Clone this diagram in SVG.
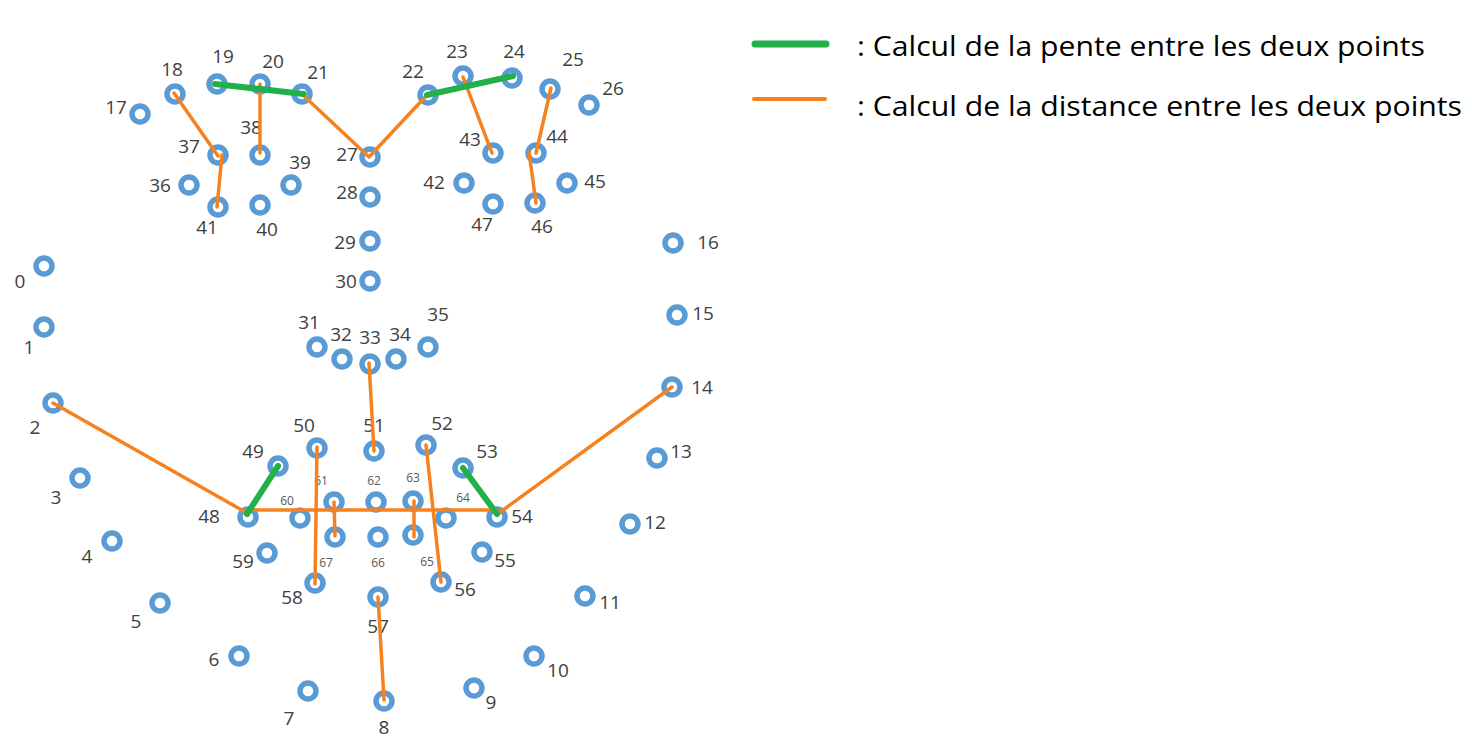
<svg xmlns="http://www.w3.org/2000/svg" width="1472" height="754" viewBox="0 0 1472 754">
<style>
.r{fill:#fff;stroke:#5b9bd5;stroke-width:5.5}
.t{font-family:"Open Sans","Liberation Sans",sans-serif;font-size:19px;fill:#3f3f3f;text-anchor:middle}
.s{font-family:"Open Sans","Liberation Sans",sans-serif;font-size:12px;fill:#595959;text-anchor:middle}
.g{stroke:#22b04b;stroke-width:6;stroke-linecap:round;fill:none}
.o{stroke:#f5811f;stroke-width:3.5;stroke-linecap:round;stroke-linejoin:round;fill:none}
.lg{font-family:"Open Sans","Liberation Sans",sans-serif;font-size:27px;fill:#000}
</style>
<rect width="1472" height="754" fill="#fff"/>
<g id="nodes">
<g id="p0"><circle class="r" cx="44" cy="266" r="8"/><text class="t" x="20" y="288">0</text></g>
<g id="p1"><circle class="r" cx="44" cy="327" r="8"/><text class="t" x="29" y="354">1</text></g>
<g id="p2"><circle class="r" cx="53" cy="403" r="8"/><text class="t" x="35" y="434">2</text></g>
<g id="p3"><circle class="r" cx="80" cy="478" r="8"/><text class="t" x="56" y="504">3</text></g>
<g id="p4"><circle class="r" cx="112" cy="541" r="8"/><text class="t" x="87" y="563">4</text></g>
<g id="p5"><circle class="r" cx="160" cy="603" r="8"/><text class="t" x="136" y="628">5</text></g>
<g id="p6"><circle class="r" cx="239" cy="656" r="8"/><text class="t" x="214" y="666">6</text></g>
<g id="p7"><circle class="r" cx="308" cy="691" r="8"/><text class="t" x="289" y="725">7</text></g>
<g id="p8"><circle class="r" cx="384" cy="701" r="8"/><text class="t" x="384" y="734">8</text></g>
<g id="p9"><circle class="r" cx="474" cy="688" r="8"/><text class="t" x="491" y="709">9</text></g>
<g id="p10"><circle class="r" cx="534" cy="656" r="8"/><text class="t" x="558" y="677">10</text></g>
<g id="p11"><circle class="r" cx="585" cy="596" r="8"/><text class="t" x="610" y="609">11</text></g>
<g id="p12"><circle class="r" cx="630" cy="524" r="8"/><text class="t" x="655" y="529">12</text></g>
<g id="p13"><circle class="r" cx="657" cy="458" r="8"/><text class="t" x="681" y="458">13</text></g>
<g id="p14"><circle class="r" cx="672" cy="387" r="8"/><text class="t" x="702" y="394">14</text></g>
<g id="p15"><circle class="r" cx="677" cy="315" r="8"/><text class="t" x="703" y="320">15</text></g>
<g id="p16"><circle class="r" cx="673" cy="243" r="8"/><text class="t" x="708" y="249">16</text></g>
<g id="p17"><circle class="r" cx="140" cy="114" r="8"/><text class="t" x="116" y="114">17</text></g>
<g id="p18"><circle class="r" cx="175" cy="94" r="8"/><text class="t" x="172" y="76">18</text></g>
<g id="p19"><circle class="r" cx="217" cy="84" r="8"/><text class="t" x="223" y="63">19</text></g>
<g id="p20"><circle class="r" cx="260" cy="84" r="8"/><text class="t" x="273" y="68">20</text></g>
<g id="p21"><circle class="r" cx="302" cy="94" r="8"/><text class="t" x="318" y="79">21</text></g>
<g id="p22"><circle class="r" cx="428" cy="95" r="8"/><text class="t" x="413" y="78">22</text></g>
<g id="p23"><circle class="r" cx="463" cy="76" r="8"/><text class="t" x="457" y="58">23</text></g>
<g id="p24"><circle class="r" cx="512" cy="78" r="8"/><text class="t" x="514" y="58">24</text></g>
<g id="p25"><circle class="r" cx="550" cy="89" r="8"/><text class="t" x="573" y="66">25</text></g>
<g id="p26"><circle class="r" cx="589" cy="105" r="8"/><text class="t" x="613" y="95">26</text></g>
<g id="p27"><circle class="r" cx="370" cy="157" r="8"/><text class="t" x="347" y="161">27</text></g>
<g id="p28"><circle class="r" cx="370" cy="197" r="8"/><text class="t" x="347" y="199">28</text></g>
<g id="p29"><circle class="r" cx="370" cy="241" r="8"/><text class="t" x="345" y="249">29</text></g>
<g id="p30"><circle class="r" cx="370" cy="281" r="8"/><text class="t" x="346" y="288">30</text></g>
<g id="p31"><circle class="r" cx="317" cy="347" r="8"/><text class="t" x="309" y="329">31</text></g>
<g id="p32"><circle class="r" cx="342" cy="359" r="8"/><text class="t" x="341" y="341">32</text></g>
<g id="p33"><circle class="r" cx="370" cy="364" r="8"/><text class="t" x="370" y="344">33</text></g>
<g id="p34"><circle class="r" cx="396" cy="359" r="8"/><text class="t" x="400" y="341">34</text></g>
<g id="p35"><circle class="r" cx="428" cy="347" r="8"/><text class="t" x="438" y="321">35</text></g>
<g id="p36"><circle class="r" cx="189" cy="185" r="8"/><text class="t" x="160" y="192">36</text></g>
<g id="p37"><circle class="r" cx="218" cy="155" r="8"/><text class="t" x="189" y="153">37</text></g>
<g id="p38"><circle class="r" cx="260" cy="155" r="8"/><text class="t" x="251" y="134">38</text></g>
<g id="p39"><circle class="r" cx="291" cy="185" r="8"/><text class="t" x="300" y="169">39</text></g>
<g id="p40"><circle class="r" cx="260" cy="205" r="8"/><text class="t" x="267" y="236">40</text></g>
<g id="p41"><circle class="r" cx="218" cy="207" r="8"/><text class="t" x="207" y="234">41</text></g>
<g id="p42"><circle class="r" cx="464" cy="183" r="8"/><text class="t" x="434" y="189">42</text></g>
<g id="p43"><circle class="r" cx="493" cy="153" r="8"/><text class="t" x="470" y="146">43</text></g>
<g id="p44"><circle class="r" cx="536" cy="153" r="8"/><text class="t" x="557" y="143">44</text></g>
<g id="p45"><circle class="r" cx="567" cy="183" r="8"/><text class="t" x="595" y="188">45</text></g>
<g id="p46"><circle class="r" cx="535" cy="203" r="8"/><text class="t" x="542" y="233">46</text></g>
<g id="p47"><circle class="r" cx="493" cy="204" r="8"/><text class="t" x="482" y="231">47</text></g>
<g id="p48"><circle class="r" cx="248" cy="517" r="8"/><text class="t" x="209" y="523">48</text></g>
<g id="p49"><circle class="r" cx="278" cy="466" r="8"/><text class="t" x="253" y="458">49</text></g>
<g id="p50"><circle class="r" cx="317" cy="448" r="8"/><text class="t" x="304" y="432">50</text></g>
<g id="p51"><circle class="r" cx="374" cy="451" r="8"/><text class="t" x="374" y="432">51</text></g>
<g id="p52"><circle class="r" cx="426" cy="445" r="8"/><text class="t" x="442" y="430">52</text></g>
<g id="p53"><circle class="r" cx="463" cy="468" r="8"/><text class="t" x="487" y="458">53</text></g>
<g id="p54"><circle class="r" cx="497" cy="517" r="8"/><text class="t" x="522" y="523">54</text></g>
<g id="p55"><circle class="r" cx="482" cy="552" r="8"/><text class="t" x="505" y="567">55</text></g>
<g id="p56"><circle class="r" cx="441" cy="582" r="8"/><text class="t" x="465" y="596">56</text></g>
<g id="p57"><circle class="r" cx="378" cy="597" r="8"/><text class="t" x="378" y="633">57</text></g>
<g id="p58"><circle class="r" cx="315" cy="583" r="8"/><text class="t" x="292" y="604">58</text></g>
<g id="p59"><circle class="r" cx="267" cy="553" r="8"/><text class="t" x="243" y="568">59</text></g>
<g id="p60"><circle class="r" cx="300" cy="518" r="8"/><text class="s" x="287" y="505">60</text></g>
<g id="p61"><circle class="r" cx="334" cy="502" r="8"/><text class="s" x="321" y="485">61</text></g>
<g id="p62"><circle class="r" cx="376" cy="502" r="8"/><text class="s" x="374" y="485">62</text></g>
<g id="p63"><circle class="r" cx="413" cy="501" r="8"/><text class="s" x="413" y="482">63</text></g>
<g id="p64"><circle class="r" cx="446" cy="518" r="8"/><text class="s" x="463" y="502">64</text></g>
<g id="p65"><circle class="r" cx="413" cy="535" r="8"/><text class="s" x="427" y="566">65</text></g>
<g id="p66"><circle class="r" cx="378" cy="537" r="8"/><text class="s" x="378" y="567">66</text></g>
<g id="p67"><circle class="r" cx="335" cy="537" r="8"/><text class="s" x="326" y="567">67</text></g>
</g>
<g id="connectors">
<line class="o" x1="174" y1="93" x2="218" y2="156"/>
<line class="o" x1="222" y1="155" x2="217" y2="207"/>
<line class="o" x1="260" y1="84" x2="260" y2="153"/>
<polyline class="o" points="304,96 369,157 427,95"/>
<line class="o" x1="463" y1="77" x2="492" y2="153"/>
<line class="o" x1="551" y1="88" x2="536" y2="153"/>
<line class="o" x1="529" y1="152" x2="536" y2="203"/>
<line class="o" x1="369" y1="363" x2="374" y2="451"/>
<line class="o" x1="53" y1="403" x2="247" y2="513"/>
<line class="o" x1="499" y1="513" x2="672" y2="387"/>
<line class="o" x1="248" y1="510" x2="497" y2="510"/>
<line class="o" x1="317" y1="447" x2="315" y2="584"/>
<line class="o" x1="334" y1="502" x2="335" y2="536"/>
<line class="o" x1="414" y1="501" x2="414" y2="537"/>
<line class="o" x1="426" y1="445" x2="441" y2="582"/>
<line class="o" x1="378" y1="597" x2="384" y2="700"/>
<line class="g" x1="215" y1="84" x2="304" y2="94"/>
<line class="g" x1="427" y1="95" x2="513" y2="76"/>
<line class="g" x1="278" y1="466" x2="247" y2="514"/>
<line class="g" x1="463" y1="468" x2="497" y2="514"/>
</g>
<g id="legend">
<line x1="755" y1="44" x2="826" y2="44" stroke="#22b04b" stroke-width="7" stroke-linecap="round"/>
<line x1="754" y1="99" x2="825" y2="99" stroke="#f5811f" stroke-width="4" stroke-linecap="round"/>
<text class="lg" x="857" y="56" textLength="568" lengthAdjust="spacingAndGlyphs">: Calcul de la pente entre les deux points</text>
<text class="lg" x="857" y="116" textLength="605" lengthAdjust="spacingAndGlyphs">: Calcul de la distance entre les deux points</text>
</g>
</svg>
